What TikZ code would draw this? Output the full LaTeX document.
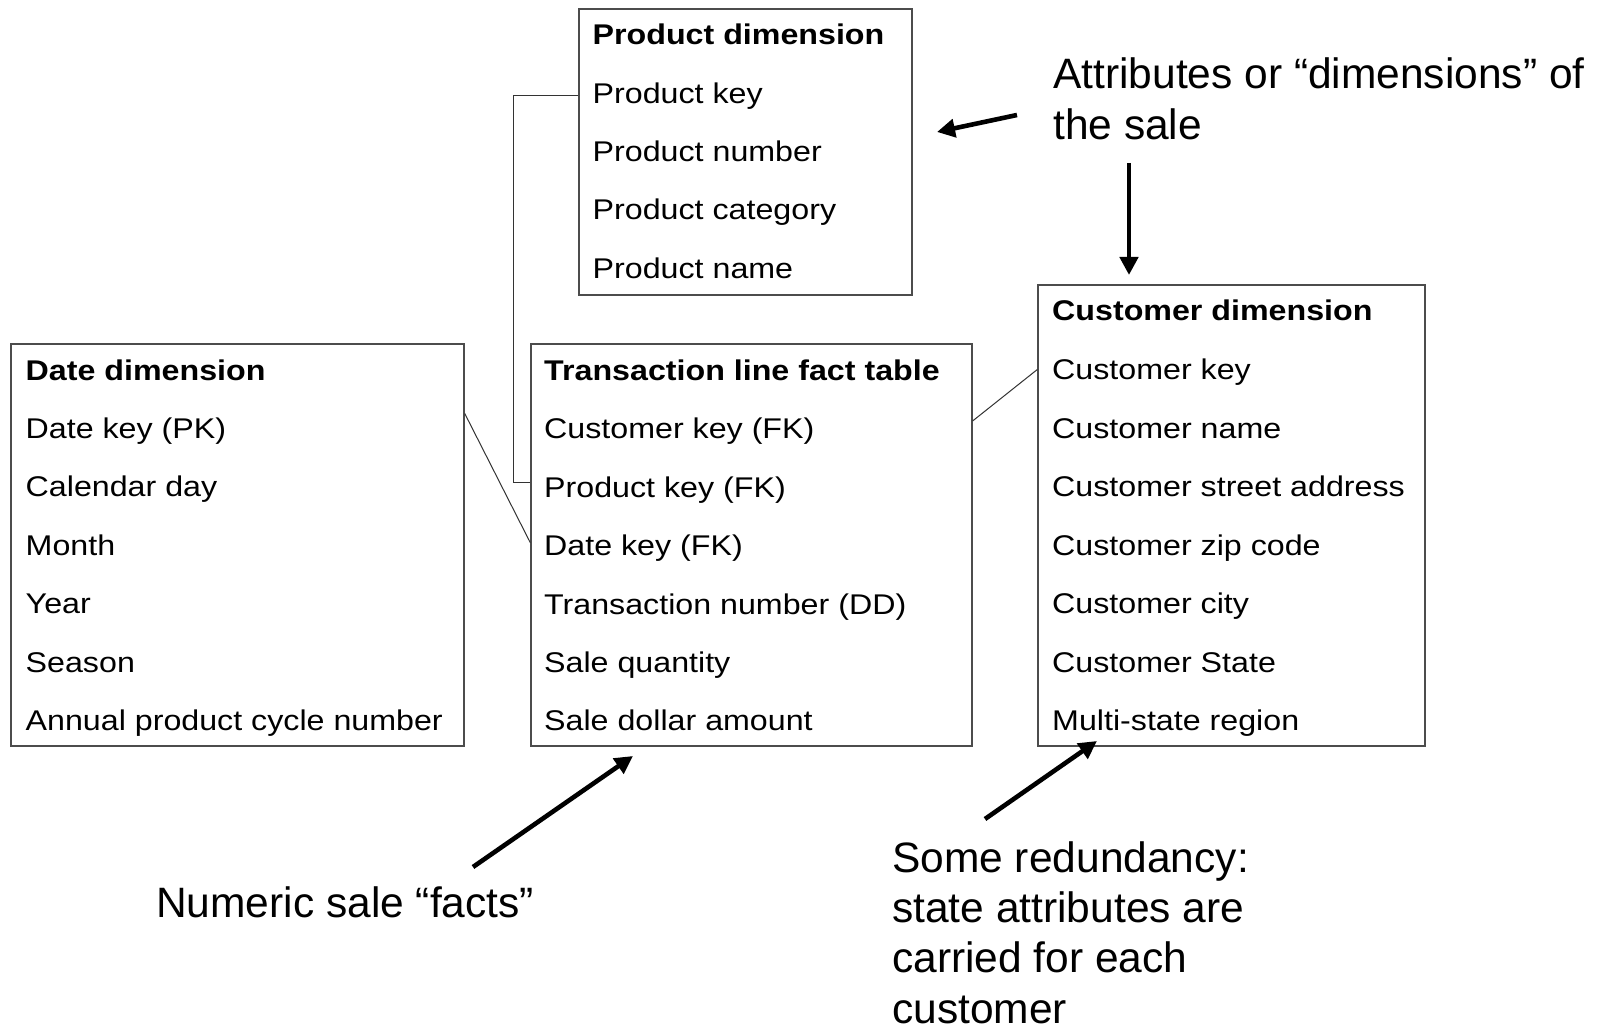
\documentclass[tikz,border=0pt]{standalone}
\usepackage{fontspec}
\setmainfont{Liberation Sans}
\newfontfamily\boxfont[FakeStretch=1.13]{Liberation Sans}
\usetikzlibrary{arrows.meta,calc}
\begin{document}
\begin{tikzpicture}[x=1pt,y=-1pt,
  tbl/.style={draw=black!70,line width=1.4pt,rectangle,inner sep=0pt},
  row/.style={anchor=base west,inner sep=0pt,font=\boxfont\fontsize{28.5}{30}\selectfont},
  ttl/.style={anchor=base west,inner sep=0pt,font=\boxfont\fontsize{28.5}{30}\selectfont\bfseries},
  link/.style={draw=black!80,line width=1pt},
  note/.style={anchor=base west,inner sep=0pt,align=left,font=\fontsize{42.5}{50.4}\selectfont},
  bigarrow/.style={draw=black,line width=4.6pt,-{Triangle[length=18pt,width=18pt]}}]
\useasboundingbox[fill=white] (0,0) rectangle (1604,1024);

% tables
\node[tbl,minimum width=333pt,minimum height=286pt] (pbox) at (745.5,152) {};
\node[tbl,minimum width=453pt,minimum height=402pt] (dbox) at (237.5,545) {};
\node[tbl,minimum width=441pt,minimum height=402pt] (tbox) at (751.5,545) {};
\node[tbl,minimum width=387pt,minimum height=461pt] (cbox) at (1231.5,515.5) {};

% product dimension
\node[ttl] (p0) at (592.5,45) {Product dimension};
\foreach \t [count=\i] in {Product key,Product number,Product category,Product name}
  \node[row] (p\i) at (592.5,{45+58.3*\i}) {\t};

% date dimension
\node[ttl] (d0) at (25.5,380) {Date dimension};
\foreach \t [count=\i] in {Date key (PK),Calendar day,Month,Year,Season,Annual product cycle number}
  \node[row] (d\i) at (25.5,{380+58.4*\i}) {\t};

% transaction fact table
\node[ttl] (t0) at (544,380.5) {Transaction line fact table};
\foreach \t [count=\i] in {Customer key (FK),Product key (FK),Date key (FK),Transaction number (DD),Sale quantity,Sale dollar amount}
  \node[row] (t\i) at (544,{380.5+58.4*\i}) {\t};

% customer dimension
\node[ttl] (c0) at (1052,321) {Customer dimension};
\foreach \t [count=\i] in {Customer key,Customer name,Customer street address,Customer zip code,Customer city,Customer State,Multi-state region}
  \node[row] (c\i) at (1052,{321+58.5*\i}) {\t};

% relationship lines
\coordinate (pk) at ($(pbox.west |- p1.base)+(0,-8)$);
\coordinate (tpk) at ($(tbox.west |- t2.base)+(0,-15)$);
\draw[link] (pk) -| ($(tpk)+(-17,0)$) -- (tpk);
\draw[link] ($(dbox.east |- d1.base)+(0,-25)$) -- ($(tbox.west |- t3.base)+(0,-13)$);
\draw[link] ($(tbox.east |- t1.base)+(0,-18)$) -- ($(cbox.west |- c1.base)+(0,-10)$);

% annotations (base anchor = baseline of the last line)
\node[note] (n1) at (1053,139.4) {Attributes or “dimensions” of\\the sale};
\node[note] (n2) at (156,917) {Numeric sale “facts”};
\node[note] (n3) at (892,1023.2) {Some redundancy:\\state attributes are\\carried for each\\customer};

\coordinate (a1s) at (1017,115); \coordinate (a1e) at (937,132);
\coordinate (a2s) at (1129,163); \coordinate (a2e) at (1129,275);
\coordinate (a3s) at (473,867);  \coordinate (a3e) at (633,756);
\coordinate (a4s) at (985,819);  \coordinate (a4e) at (1097,741);
\draw[bigarrow] (a1s) -- (a1e);
\draw[bigarrow] (a2s) -- (a2e);
\draw[bigarrow] (a3s) -- (a3e);
\draw[bigarrow] (a4s) -- (a4e);
\end{tikzpicture}
\end{document}
